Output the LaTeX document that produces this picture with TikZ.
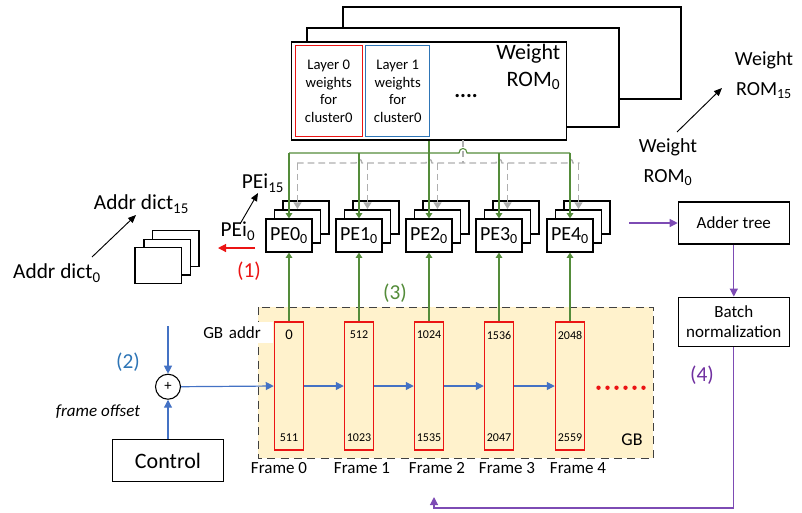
\documentclass[tikz,border=0pt]{standalone}
\usepackage{fontspec}
\setmainfont{Carlito}
\usetikzlibrary{arrows.meta}
\definecolor{gline}{RGB}{84,140,58}
\definecolor{bline}{RGB}{68,114,196}
\definecolor{btext}{RGB}{46,117,182}
\definecolor{pline}{RGB}{125,75,180}
\definecolor{ptext}{RGB}{112,48,160}
\definecolor{gray1}{RGB}{175,175,175}
\definecolor{rline}{RGB}{235,20,20}
\definecolor{gbfill}{RGB}{255,242,204}
\newcommand{\pxu}{0.75pt}
\newcommand{\fz}[2]{\fontsize{#1pt}{#2pt}\selectfont}
\begin{document}
\begin{tikzpicture}[x=0.75pt,y=-0.75pt,
	box/.style={draw,line width=0.9pt,fill=white,inner sep=0pt},
	pebox/.style={box,minimum width=46*\pxu,minimum height=33*\pxu,font=\fz{15}{18}},
	framebox/.style={draw=rline,line width=1.1pt,minimum width=29*\pxu,minimum height=128*\pxu,inner sep=0pt},
	garrow/.style={gline,line width=0.8pt,-{Triangle[length=4pt,width=5pt]}},
	gydash/.style={gray1,line width=1pt,dash pattern=on 5pt off 3pt},
	barrow/.style={bline,line width=0.9pt,-{Triangle[length=6pt,width=6pt]}},
	parrow/.style={pline,line width=0.9pt,-{Triangle[length=6pt,width=6pt]}},
	karrow/.style={line width=0.7pt,-{Triangle[length=6pt,width=5pt]}},
	lbl/.style={font=\fz{16}{21},align=center}]
	\useasboundingbox (0,0) rectangle (802,512);
	% weight ROM stack
	\draw[line width=0.9pt,fill=white] (343,7) rectangle (681,99);
	\draw[line width=0.9pt,fill=white] (307,28) rectangle (619,127);
	\node[box,minimum width=275*\pxu,minimum height=98*\pxu] (rom) at (429.2,91) {};
	\node[draw=rline,line width=0.9pt,inner sep=0pt,minimum width=67*\pxu,minimum height=91*\pxu,align=center,font=\fz{11}{13.3}] (lay0) at (328.7,91.2) {Layer 0\\weights\\for\\cluster0};
	\node[draw=btext,line width=0.9pt,inner sep=0pt,minimum width=64*\pxu,minimum height=91*\pxu,align=center,font=\fz{11}{13.3}] (lay1) at (397.7,91.2) {Layer 1\\weights\\for\\cluster0};
	\node[font=\fz{16.5}{20},align=right,anchor=east] (romlbl) at (565,67) {Weight\\ROM\textsubscript{0}};
	\node[font=\fz{16.5}{20}] (romdots) at (466,96) {\textbf{....}};
	% PE stacks
	\foreach \i/\x in {0/289,1/359,2/429,3/499,4/570}{
		\draw[line width=0.9pt,fill=white] (\x-6,201) rectangle (\x+40,234);
		\draw[line width=0.9pt,fill=white] (\x-14.5,210) rectangle (\x+31.5,243);
		\node[pebox] (pe\i) at (\x,235.5) {PE\i\textsubscript{0}};
	}
	% weight buses
	\coordinate (gbus) at (0,153);
	\coordinate (ybus) at (0,163);
	\coordinate (gtap) at (463,140);
	\draw[gydash] (gtap) -- (gtap |- ybus);
	\draw[gydash] (297,163) foreach \h in {359,429,499,570}{ -- (\h-3,163) .. controls (\h-3,158) and (\h+3,158) .. (\h+3,163)} -- (579.5,163);
	\foreach \x in {289,359,429,499,570}
		\draw[gydash,-{Triangle[length=5pt,width=6pt]}] (\x+8.5,163) -- (\x+8.5,209);
	\draw[gline,line width=0.8pt] (pe0.north |- gbus) -- (459,153) .. controls (459,147) and (467,147) .. (467,153) -- (pe4.north |- gbus);
	\foreach \i in {0,1,3,4}
		\draw[garrow] (pe\i.north |- gbus) -- (pe\i.north);
	\draw[garrow] (rom.south -| pe2.north) -- (pe2.north);
	% addr dict stack
	\draw[line width=0.9pt,fill=white] (152.7,230.7) rectangle (199,266.7);
	\draw[line width=0.9pt,fill=white] (144,239.3) rectangle (190.7,275);
	\node[box,minimum width=46.7*\pxu,minimum height=35.6*\pxu] (addr) at (158.3,265.5) {};
	\node[lbl] (ad15) at (141.5,204) {Addr dict\textsubscript{15}};
	\node[lbl] (ad0) at (57,273) {Addr dict\textsubscript{0}};
	\coordinate (ad0tail) at (92,257);
	\coordinate (ad15tip) at (136,215);
	\draw[karrow] (ad0tail) -- (ad15tip);
	\node[lbl] (pei15) at (263,183) {PEi\textsubscript{15}};
	\node[lbl] (pei0) at (238,231) {PEi\textsubscript{0}};
	\coordinate (pei0tail) at (240,224);
	\coordinate (pei15tip) at (258,193);
	\draw[karrow] (pei0tail) -- (pei15tip);
	\coordinate (rstart) at (255,248);
	\coordinate (rend) at (218,248);
	\draw[rline,line width=0.9pt,-{Triangle[length=6pt,width=6pt]}] (rstart) -- (rend);
	\node[lbl,text=rline] (s1) at (249,271) {(1)};
	% global buffer
	\draw[fill=gbfill,draw=black!75,line width=1pt,dash pattern=on 6pt off 4pt] (258.3,307.3) rectangle (653.3,458.3);
	\node[font=\fz{13.5}{16}] (gb) at (632,440) {GB};
	\node[fill=white,anchor=west,inner xsep=3*\pxu,inner ysep=0pt,text width=67*\pxu,minimum height=21*\pxu,font=\fz{12.75}{15}] (gbaddr) at (200,332.5) {GB addr};
	\foreach \i/\x/\t/\b/\s/\l in {0/289/0/511/11/279,1/359/512/1023/9/362,2/429/1024/1535/9/437,3/499/1536/2047/9/507,4/570/2048/2559/9/578}{
		\node[framebox] (fr\i) at (\x,386) {};
		\node[font=\fz{\s}{12}] (top\i) at (\x,335) {\t};
		\node[font=\fz{9}{11}] (bot\i) at (\x,438) {\b};
		\node[font=\fz{12.75}{15}] (flbl\i) at (\l,468.3) {Frame \i};
		\draw[garrow] (fr\i.north) -- (pe\i.south);
	}
	\node[lbl,text=gline] (s3) at (395,293) {(3)};
	\foreach \k in {0,...,5}
		\fill[rline] (598.5+\k*9,387.7) circle (2.2);
	% address generation
	\node[draw,circle,line width=0.8pt,minimum size=25*\pxu,inner sep=0pt,font=\fz{11}{12}] (sum) at (168,386.7) {+};
	\node[box,minimum width=110.6*\pxu,minimum height=42*\pxu,font=\fz{16.5}{20}] (ctrl) at (168,460.7) {Control};
	\coordinate (offin) at (168,326);
	\draw[barrow] (offin) -- (sum.north);
	\draw[barrow] (ctrl.north) -- (sum.south);
	\draw[barrow] (sum.east) -- (fr0.west);
	\foreach \i/\j in {0/1,1/2,2/3,3/4}
		\draw[barrow] (fr\i.east) -- (fr\j.west);
	\node[lbl,text=btext] (s2) at (128,362) {(2)};
	\node[font=\fz{12.75}{15}\itshape] (foff) at (98,412) {frame offset};
	% adder tree and batch norm
	\node[box,minimum width=111*\pxu,minimum height=42*\pxu,font=\fz{12.75}{15}] (adder) at (733.8,223) {Adder tree};
	\node[box,minimum width=111*\pxu,minimum height=49*\pxu,align=center,font=\fz{12.75}{15.5}] (bn) at (733.8,321.7) {Batch\\normalization};
	\coordinate (pein) at (629,223);
	\coordinate (fbrow) at (0,508);
	\coordinate (fbtip) at (434,497);
	\draw[parrow] (pein) -- (adder.west);
	\draw[parrow] (adder.south) -- (bn.north);
	\draw[parrow] (bn.south) -- (bn.south |- fbrow) -- (fbtip |- fbrow) -- (fbtip);
	\node[lbl,text=ptext] (s4) at (702,375) {(4)};
	% weight ROM labels
	\node[font=\fz{15}{22},align=center] (wr15) at (764,75) {Weight\\ROM\textsubscript{15}};
	\node[font=\fz{15}{22},align=center] (wr0) at (668,162) {Weight\\ROM\textsubscript{0}};
	\coordinate (wr0tail) at (677,132);
	\coordinate (wr15tip) at (722,88);
	\draw[karrow] (wr0tail) -- (wr15tip);
\end{tikzpicture}
\end{document}
